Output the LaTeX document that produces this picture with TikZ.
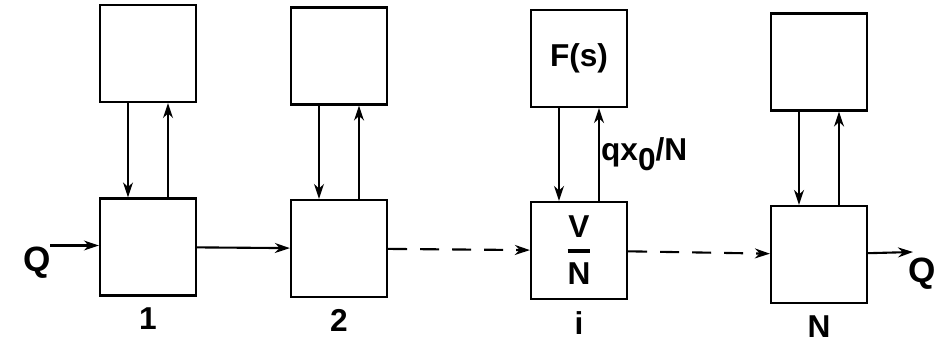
\documentclass[tikz,border=0pt]{standalone}
\usepackage{amsmath}
\usepackage{fontspec}
\setmainfont{Liberation Sans}
\usetikzlibrary{arrows.meta,positioning}

\begin{document}
\begin{tikzpicture}[
  font=\fontsize{18}{22}\selectfont\bfseries,
  box/.style={draw, line width=1.3pt, minimum width=19.2mm, minimum height=19.4mm, inner sep=0pt},
  arr/.style={-{Stealth[length=3mm,width=2mm]}, line width=1.2pt},
  dsh/.style={arr, dash pattern=on 3.8mm off 2.6mm},
  num/.style={inner sep=0pt},
  flow/.style={font=\fontsize{20}{24}\selectfont\bfseries}
]
\useasboundingbox (0,0) rectangle (18.76,6.9);
% stages: upper element, stage box, exchange arrows, index
\foreach \n/\x/\yt/\yb in {1/2.96/5.83/1.96, 2/6.78/5.78/1.93, i/11.58/5.73/1.89, N/16.38/5.66/1.81} {
  \node[box] (top\n) at (\x,\yt) {};
  \node[box] (bot\n) at (\x,\yb) {};
  \draw[arr] ([xshift=-4mm]top\n.south) -- ([xshift=-4mm]bot\n.north);
  \draw[arr] ([xshift=4mm]bot\n.north) -- ([xshift=4mm]top\n.south);
  \node[num, below=2.2mm of bot\n] (lab\n) {\n};
}
% contents of stage i
\node (fs) at (topi) {F(s)};
\node (vn) at (boti) {$\genfrac{}{}{2pt}{0}{\text{V}}{\text{N}}$};
\path ([xshift=4mm]boti.north) -- node[right, inner sep=1pt] (qx) {qx\raisebox{-0.6ex}{0}/N} ([xshift=4mm]topi.south);
% flow through the chain
\coordinate (qin) at (1.0,1.99);
\coordinate (qout) at (18.26,1.86);
\draw[arr] (qin) -- (qin -| bot1.west);
\draw[arr] (bot1) -- (bot2);
\draw[dsh] (bot2) -- (boti);
\draw[dsh] (boti) -- (botN);
\draw[arr] (botN) -- (qout);
\node[flow] (qleft) at (0.74,1.64) {Q};
\node[flow] (qright) at (18.44,1.42) {Q};
\end{tikzpicture}
\end{document}
